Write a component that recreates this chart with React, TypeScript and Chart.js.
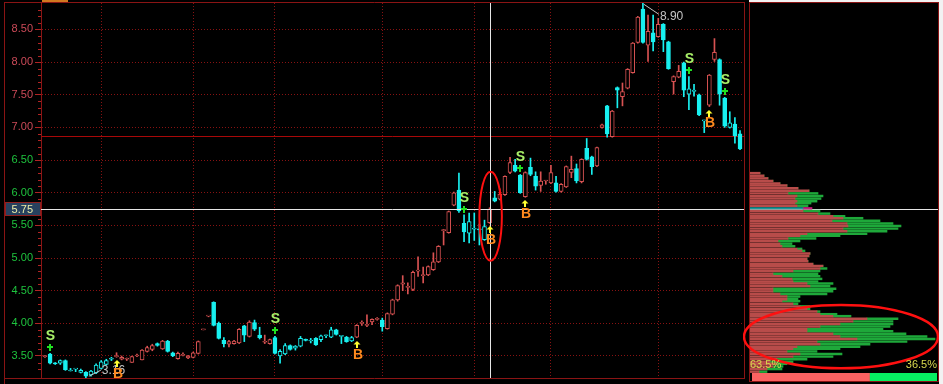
import React, { useEffect, useRef } from 'react';
import { Chart, registerables } from 'chart.js';

Chart.register(...registerables);

// ---------- candle data (daily OHLC) ----------
const opens = [3.49,3.53,3.39,3.39,3.43,3.27,3.30,3.25,3.25,3.21,
3.24,3.31,3.37,3.45,3.49,3.45,3.45,3.40,3.50,3.44,
3.57,3.60,3.69,3.61,3.73,3.55,3.46,3.51,3.47,3.48,
3.54,3.90,4.11,4.32,4.00,3.74,3.68,3.69,3.70,3.96,
3.80,4.01,3.82,3.71,3.69,3.78,3.50,3.53,3.66,3.62,
3.65,3.75,3.73,3.77,3.75,3.81,3.79,3.90,3.80,3.79,
3.73,3.79,4.00,3.97,4.02,4.06,4.05,3.92,4.14,4.36,
4.60,4.55,4.52,4.80,4.73,4.74,4.82,4.94,5.42,5.39,
5.81,6.04,5.53,5.38,5.44,5.44,5.28,5.54,5.92,5.90,
5.97,6.31,6.42,6.27,5.94,6.39,6.25,6.11,6.18,6.15,
6.15,6.02,6.09,6.31,6.37,6.17,6.68,6.55,6.41,7.00,
7.33,6.86,7.61,7.47,7.60,7.84,8.30,8.81,8.26,8.45,
8.39,8.58,8.31,7.70,7.77,7.99,7.51,7.55,7.50,7.10,
7.34,8.04,8.04,7.45,7.00,7.05,6.90];
const highs = [3.51,3.54,3.40,3.44,3.44,3.31,3.30,3.30,3.26,3.28,
3.38,3.43,3.45,3.48,3.55,3.50,3.47,3.50,3.53,3.60,
3.65,3.68,3.70,3.74,3.74,3.56,3.56,3.55,3.51,3.56,
3.73,3.91,4.11,4.33,4.02,3.78,3.74,3.74,3.92,3.97,
4.04,4.05,3.94,3.82,3.76,3.80,3.60,3.69,3.67,3.66,
3.80,3.76,3.77,3.78,3.82,3.82,3.94,3.91,3.81,3.80,
3.80,3.98,4.04,4.13,4.07,4.09,4.08,4.16,4.37,4.59,
4.73,4.62,4.80,5.02,4.86,4.88,5.08,5.19,5.44,5.72,
6.01,6.30,5.66,5.69,5.69,5.52,5.58,5.77,6.02,6.06,
6.26,6.54,6.51,6.28,6.32,6.53,6.32,6.32,6.19,6.42,
6.25,6.14,6.41,6.56,6.44,6.52,6.83,6.56,6.70,7.05,
7.34,7.26,7.62,7.68,7.90,8.30,8.70,8.90,8.72,8.72,
8.67,8.59,8.32,7.79,7.95,8.00,7.78,7.66,7.51,7.11,
7.81,8.36,8.05,7.46,7.24,7.15,6.95];
const lows = [3.48,3.38,3.37,3.37,3.28,3.27,3.26,3.24,3.16,3.19,
3.23,3.30,3.36,3.43,3.48,3.44,3.43,3.40,3.49,3.44,
3.56,3.58,3.65,3.60,3.56,3.49,3.45,3.50,3.46,3.47,
3.53,3.90,4.10,3.96,3.76,3.64,3.64,3.68,3.69,3.72,
3.79,3.89,3.76,3.69,3.68,3.53,3.39,3.52,3.59,3.59,
3.64,3.73,3.70,3.66,3.72,3.78,3.78,3.82,3.69,3.71,
3.72,3.78,3.97,3.95,3.98,4.05,3.88,3.91,4.13,4.34,
4.50,4.45,4.50,4.72,4.62,4.73,4.81,4.93,5.20,5.38,
5.80,5.70,5.25,5.23,5.27,5.20,5.27,5.53,5.86,5.89,
5.96,6.29,6.32,5.99,5.93,6.26,6.04,6.02,6.13,6.14,
6.01,6.01,6.08,6.23,6.15,6.15,6.50,6.28,6.40,6.99,
6.85,6.85,7.30,7.33,7.59,7.83,8.29,8.29,8.01,8.17,
8.38,8.16,7.89,7.51,7.76,7.47,7.27,7.48,7.18,6.92,
7.32,8.01,7.34,7.00,6.99,6.76,6.66];
const closes = [3.50,3.39,3.38,3.43,3.29,3.27,3.30,3.28,3.19,3.27,
3.36,3.41,3.43,3.46,3.50,3.48,3.46,3.49,3.51,3.59,
3.63,3.66,3.66,3.73,3.57,3.50,3.54,3.52,3.50,3.55,
3.72,3.91,4.11,3.97,3.77,3.69,3.72,3.73,3.91,3.82,
4.02,3.91,3.78,3.72,3.75,3.54,3.57,3.66,3.60,3.65,
3.77,3.74,3.74,3.67,3.81,3.82,3.90,3.83,3.80,3.72,
3.78,3.97,4.01,3.98,4.06,4.07,3.95,4.15,4.36,4.58,
4.62,4.56,4.78,4.81,4.74,4.87,4.94,5.18,5.43,5.71,
6.00,5.72,5.40,5.56,5.45,5.43,5.48,5.75,5.87,5.98,
6.25,6.46,6.33,6.00,6.31,6.28,6.10,6.18,6.19,6.31,
6.02,6.13,6.40,6.36,6.18,6.51,6.51,6.40,6.69,7.04,
6.90,7.25,7.57,7.55,7.89,8.29,8.69,8.30,8.47,8.31,
8.58,8.34,7.90,7.78,7.86,7.57,7.59,7.57,7.19,7.10,
7.80,8.15,7.51,7.02,7.07,6.87,6.67];

// trading signals (candle indices)
const sellSignals = [1, 45, 82, 93, 126, 133];
const buySignals = [14, 61, 87, 94, 130];

// vertical (period) grid lines, at candle indices
const periodGridCandles = [11, 29, 45, 66, 84, 99, 120];

// crosshair / reference
const crossCandle = 87;
const crossPrice = 5.75;
const refPrice = 6.87;
const priceMin = 3.163;
const priceMax = 8.905;

// ---------- volume-by-price profile ----------
const profilePrices = [6.30,6.26,6.22,6.18,6.14,6.11,6.07,6.03,5.99,5.95,
5.91,5.87,5.84,5.80,5.76,5.72,5.68,5.64,5.61,5.57,
5.53,5.49,5.45,5.41,5.37,5.34,5.30,5.26,5.22,5.18,
5.14,5.11,5.07,5.03,4.99,4.95,4.91,4.88,4.84,4.80,
4.76,4.72,4.68,4.64,4.61,4.57,4.53,4.49,4.45,4.41,
4.37,4.34,4.30,4.26,4.22,4.18,4.14,4.11,4.07,4.03,
3.99,3.95,3.91,3.88,3.84,3.80,3.76,3.72,3.68,3.64,
3.61,3.57,3.53,3.49,3.45,3.41,3.38,3.34,3.30,3.26];
const profileRed = [11,15,19,24,31,38,49,60,39,48,
46,48,46,48,54,54,69,84,94,83,
98,99,94,98,58,51,39,29,31,33,
48,53,61,60,58,59,64,74,71,44,
24,33,43,44,58,61,24,24,31,38,
38,33,44,51,58,68,71,84,118,104,
91,71,58,58,84,91,108,68,71,48,
44,38,51,44,28,21,28,24,18,10];
const profileGreen = [0,0,0,0,0,0,0,0,30,26,
26,20,16,11,9,17,12,12,20,48,
46,53,55,40,60,40,28,22,12,13,
5,3,0,0,0,0,0,0,7,27,
45,38,30,25,26,20,63,60,47,13,
11,18,5,10,3,3,17,18,31,40,
53,70,76,86,73,87,78,90,50,63,
47,30,42,40,30,23,10,10,15,8];
const profileMax = 189;
const shareRed = 63.5;
const shareGreen = 36.5;

// ---------- styles ----------
const RED = '#d85252';
const CYAN = '#18f0f0';
const FRAME = '#8a1414';
const GRID = 'rgba(150,20,20,0.9)';
const TICK = '#b02424';
const FONT = '"Liberation Sans", Arial, sans-serif';

const N = opens.length;
const idx = opens.map((_, i) => i);

function candleColors() {
  let state = 'red';
  const fill: string[] = [];
  const border: string[] = [];
  const wick: string[] = [];
  for (let i = 0; i < N; i++) {
    if (sellSignals.includes(i)) state = 'cyan';
    if (buySignals.includes(i)) state = 'red';
    const up = closes[i] >= opens[i];
    if (up) {
      const c = state === 'red' ? RED : CYAN;
      fill.push('#000000'); border.push(c); wick.push(c);
    } else {
      fill.push(CYAN); border.push(CYAN); wick.push(CYAN);
    }
  }
  return { fill, border, wick };
}

const isMajor = (v: number) => Math.abs(v * 2 - Math.round(v * 2)) < 1e-6;
const isMinor = (v: number) => Math.abs(v * 10 - Math.round(v * 10)) < 1e-6;

const mainDeco = {
  id: 'mainDeco',
  beforeDatasetsDraw(chart: any) {
    const { ctx, chartArea: a, scales } = chart;
    const y = scales.y;
    ctx.save();
    const yr = Math.round(y.getPixelForValue(refPrice)) + 0.5;
    ctx.strokeStyle = '#a80808';
    ctx.lineWidth = 1;
    ctx.beginPath(); ctx.moveTo(a.left, yr); ctx.lineTo(a.right, yr); ctx.stroke();
    // short minor tick marks on the price axis
    ctx.strokeStyle = TICK;
    ctx.beginPath();
    for (const t of y.ticks) {
      if (isMinor(t.value) && !isMajor(t.value)) {
        const ty = Math.round(y.getPixelForValue(t.value)) + 0.5;
        ctx.moveTo(a.left - 3, ty); ctx.lineTo(a.left, ty);
      }
    }
    ctx.stroke();
    ctx.restore();
  },
  afterDatasetsDraw(chart: any) {
    const { ctx, chartArea: a, scales } = chart;
    const x = scales.x, y = scales.y;
    ctx.save();
    // frame
    ctx.strokeStyle = FRAME; ctx.lineWidth = 1;
    ctx.beginPath();
    ctx.moveTo(4.5, 2.5); ctx.lineTo(4.5, 384);
    ctx.moveTo(4, 2.5); ctx.lineTo(a.right + 1, 2.5);
    ctx.moveTo(a.right + 0.5, 2.5); ctx.lineTo(a.right + 0.5, a.bottom + 1);
    ctx.moveTo(4, a.bottom + 0.5); ctx.lineTo(a.right + 1, a.bottom + 0.5);
    ctx.stroke();
    ctx.fillStyle = '#d07820';
    ctx.fillRect(42, 0, 26, 2);

    // crosshair
    const cx = Math.round(x.getPixelForValue(crossCandle)) + 0.5;
    const cy = Math.round(y.getPixelForValue(crossPrice)) + 0.5;
    ctx.strokeStyle = '#e6e6e6'; ctx.lineWidth = 1;
    ctx.beginPath();
    ctx.moveTo(cx, a.top); ctx.lineTo(cx, a.bottom);
    ctx.moveTo(a.left, cy); ctx.lineTo(a.right, cy);
    ctx.stroke();

    // high / low labels
    let hi = 0, lo = 0;
    for (let i = 0; i < N; i++) { if (highs[i] > highs[hi]) hi = i; if (lows[i] < lows[lo]) lo = i; }
    ctx.font = '12px ' + FONT;
    ctx.fillStyle = '#c4c4c4'; ctx.strokeStyle = '#c4c4c4';
    ctx.textAlign = 'left'; ctx.textBaseline = 'middle';
    const hx = x.getPixelForValue(hi), hy = y.getPixelForValue(highs[hi]);
    ctx.beginPath(); ctx.moveTo(hx + 1, hy + 1); ctx.lineTo(hx + 16, hy + 11); ctx.stroke();
    ctx.fillText(highs[hi].toFixed(2), hx + 17, hy + 13);
    const lx = x.getPixelForValue(lo), ly = y.getPixelForValue(lows[lo]);
    ctx.beginPath(); ctx.moveTo(lx + 3, ly - 2); ctx.lineTo(lx + 15, ly - 8); ctx.stroke();
    ctx.fillText(lows[lo].toFixed(2), lx + 16, ly - 8);

    // signals
    ctx.font = 'bold 14px ' + FONT;
    ctx.textAlign = 'center'; ctx.textBaseline = 'middle';
    for (const i of sellSignals) {
      const px = Math.round(x.getPixelForValue(i));
      const py = y.getPixelForValue(highs[i]);
      const ay = Math.round(py - 6);
      ctx.fillStyle = '#22e022';
      ctx.fillRect(px - 1, ay - 3, 2, 7);
      ctx.fillRect(px - 3, ay - 1, 6, 2);
      ctx.fillStyle = '#a8f068';
      ctx.fillText('S', px + 0.5, py - 17);
    }
    for (const i of buySignals) {
      const px = Math.round(x.getPixelForValue(i));
      const py = y.getPixelForValue(lows[i]);
      const ay = Math.round(py + 6);
      ctx.fillStyle = '#ffff30';
      ctx.beginPath(); ctx.moveTo(px, ay - 3); ctx.lineTo(px + 3.5, ay + 0.5); ctx.lineTo(px - 3.5, ay + 0.5); ctx.closePath(); ctx.fill();
      ctx.fillRect(px - 1, ay, 2, 4);
      ctx.fillStyle = '#ff8a1e';
      ctx.fillText('B', px + 1, py + 17);
    }

    // annotation ellipse
    const ex = x.getPixelForValue(crossCandle + 0.2);
    const ey = y.getPixelForValue(5.64);
    const erx = x.getPixelForValue(crossCandle + 2.4) - ex;
    const ery = y.getPixelForValue(5.64) - y.getPixelForValue(6.32);
    ctx.strokeStyle = '#ff1010'; ctx.lineWidth = 2;
    ctx.beginPath(); ctx.ellipse(ex, ey, erx, ery, 0, 0, Math.PI * 2); ctx.stroke();

    // crosshair price box on axis
    ctx.fillStyle = '#27415f';
    ctx.fillRect(6, cy - 7, 35, 13);
    ctx.strokeStyle = '#902020'; ctx.lineWidth = 1;
    ctx.strokeRect(5.5, cy - 7, 35, 13);
    ctx.fillStyle = '#eeeea8';
    ctx.font = '11px ' + FONT;
    ctx.textAlign = 'right'; ctx.textBaseline = 'middle';
    ctx.fillText(crossPrice.toFixed(2), 33, cy);
    ctx.restore();
  },
};

const profDeco = {
  id: 'profDeco',
  beforeDatasetsDraw(chart: any) {
    const { ctx, chartArea: a, scales } = chart;
    const cy = Math.round(scales.y.getPixelForValue(crossPrice)) + 0.5;
    ctx.save();
    ctx.strokeStyle = '#e6e6e6'; ctx.lineWidth = 1;
    ctx.beginPath(); ctx.moveTo(a.left, cy); ctx.lineTo(a.right, cy); ctx.stroke();
    ctx.restore();
  },
  afterDatasetsDraw(chart: any) {
    const { ctx, chartArea: a, scales } = chart;
    const x = scales.x, y = scales.y;
    ctx.save();
    ctx.strokeStyle = FRAME; ctx.lineWidth = 1;
    ctx.strokeRect(a.left + 0.5, 2.5, a.right - a.left, 379);
    // annotation ellipse
    const ex = x.getPixelForValue(92);
    const ey = y.getPixelForValue(3.796);
    const erx = x.getPixelForValue(189) - x.getPixelForValue(92);
    const ery = y.getPixelForValue(3.796) - y.getPixelForValue(4.281);
    ctx.strokeStyle = '#ff1010'; ctx.lineWidth = 2.5;
    ctx.beginPath(); ctx.ellipse(ex, ey, erx, ery, 0, 0, Math.PI * 2); ctx.stroke();
    // share texts
    ctx.font = '11px ' + FONT;
    ctx.fillStyle = '#d8d84e';
    ctx.textBaseline = 'middle';
    ctx.textAlign = 'left';
    ctx.fillText(shareRed.toFixed(1) + '%', a.left + 1, 365);
    ctx.textAlign = 'right';
    ctx.fillText(shareGreen.toFixed(1) + '%', a.right - 1, 365);
    ctx.restore();
  },
};

export default function App() {
  const mainRef = useRef<HTMLCanvasElement>(null);
  const profRef = useRef<HTMLCanvasElement>(null);
  const shareRef = useRef<HTMLCanvasElement>(null);

  useEffect(() => {
    document.body.style.margin = '0';
    Chart.defaults.font.family = FONT;
    const charts: Chart[] = [];
    const col = candleColors();

    charts.push(new Chart(mainRef.current as HTMLCanvasElement, {
      type: 'bar',
      data: {
        datasets: [
          {
            label: 'wick',
            data: idx.map(i => ({ x: i, y: [lows[i], highs[i]] })) as any,
            backgroundColor: col.wick,
            borderWidth: 0,
            barThickness: 1,
            grouped: false,
            order: 2,
          } as any,
          {
            label: 'body',
            data: idx.map(i => ({ x: i, y: [opens[i], closes[i]] })) as any,
            backgroundColor: col.fill,
            borderColor: col.border,
            borderWidth: 1,
            borderSkipped: false,
            barThickness: 4,
            minBarLength: 1,
            grouped: false,
            order: 1,
          } as any,
        ],
      },
      options: {
        animation: false,
        responsive: false,
        devicePixelRatio: 1,
        events: [],
        layout: { padding: { left: 0, top: 3, right: 1, bottom: 6 } },
        plugins: { legend: { display: false }, tooltip: { enabled: false } },
        scales: {
          x: {
            type: 'linear',
            min: -0.78,
            max: N - 1 + 0.78,
            bounds: 'data',
            offset: false,
            grid: { offset: false, color: GRID, drawTicks: false, lineWidth: 1 },
            border: { display: false, dash: [1, 2] },
            ticks: { display: false },
            afterBuildTicks: (s: any) => { s.ticks = periodGridCandles.map(v => ({ value: v })); },
            afterFit: (s: any) => { s.height = 0; s.paddingLeft = 0; s.paddingRight = 0; },
          } as any,
          y: {
            type: 'linear',
            min: priceMin,
            max: priceMax,
            position: 'left',
            grid: {
              color: (c: any) => (c.tick && isMajor(c.tick.value) ? GRID : 'rgba(0,0,0,0)'),
              tickColor: (c: any) => (c.tick && isMajor(c.tick.value) ? TICK : 'rgba(0,0,0,0)'),
              tickLength: 6,
              lineWidth: 1,
            },
            border: { display: true, color: FRAME, dash: [1, 2] },
            ticks: {
              stepSize: 0.1,
              autoSkip: false,
              includeBounds: true,
              padding: 2,
              font: { size: 11, family: FONT },
              color: (c: any) => (c.tick && c.tick.value > refPrice ? '#cc4a58' : '#1ec43e'),
              callback: (v: any) => (isMajor(Number(v)) ? Number(v).toFixed(2) : ''),
            },
            afterFit: (s: any) => { s.width = 41; s.paddingTop = 0; s.paddingBottom = 0; },
          } as any,
        },
      },
      plugins: [mainDeco],
    }));

    const nearCross = (k: number) => Math.abs(profilePrices[k] - crossPrice) < 0.02;
    charts.push(new Chart(profRef.current as HTMLCanvasElement, {
      type: 'bar',
      data: {
        datasets: [
          {
            data: profilePrices.map((p, k) => ({ x: profileRed[k], y: p })) as any,
            backgroundColor: profilePrices.map((_, k) => (nearCross(k) ? '#1a9a9a' : '#b84c4a')),
            borderWidth: 0,
            barThickness: 1.8,
            stack: 'v',
          } as any,
          {
            data: profilePrices.map((p, k) => ({ x: profileGreen[k], y: p })) as any,
            backgroundColor: profilePrices.map((_, k) => (nearCross(k) ? '#c81c7c' : '#1ea83a')),
            borderWidth: 0,
            barThickness: 1.8,
            stack: 'v',
          } as any,
        ],
      },
      options: {
        indexAxis: 'y',
        animation: false,
        responsive: false,
        devicePixelRatio: 1,
        events: [],
        layout: { padding: { left: 6, right: 5, top: 3, bottom: 6 } },
        plugins: { legend: { display: false }, tooltip: { enabled: false } },
        scales: {
          x: { type: 'linear', min: 0, max: profileMax, stacked: true, display: false, bounds: 'data', offset: false } as any,
          y: { type: 'linear', min: priceMin, max: priceMax, stacked: true, display: false, bounds: 'data', offset: false } as any,
        },
      },
      plugins: [profDeco],
    }));

    charts.push(new Chart(shareRef.current as HTMLCanvasElement, {
      type: 'bar',
      data: {
        labels: [''],
        datasets: [
          { data: [shareRed], backgroundColor: '#fa6262', borderWidth: 0, barPercentage: 1, categoryPercentage: 1 },
          { data: [shareGreen], backgroundColor: '#06ee62', borderWidth: 0, barPercentage: 1, categoryPercentage: 1 },
        ],
      },
      options: {
        indexAxis: 'y',
        animation: false,
        responsive: false,
        devicePixelRatio: 1,
        events: [],
        layout: { padding: 0 },
        plugins: { legend: { display: false }, tooltip: { enabled: false } },
        scales: {
          x: { stacked: true, min: 0, max: shareRed + shareGreen, display: false },
          y: { stacked: true, display: false },
        },
      },
    }));

    return () => charts.forEach(c => c.destroy());
  }, []);

  return (
    <div style={{ position: 'relative', width: 943, height: 384, background: '#000', overflow: 'hidden' }}>
      <canvas ref={mainRef} width={745} height={384} style={{ position: 'absolute', left: 0, top: 0 }} />
      <canvas ref={profRef} width={200} height={384} style={{ position: 'absolute', left: 743, top: 0 }} />
      <canvas ref={shareRef} width={185} height={8} style={{ position: 'absolute', left: 752, top: 373 }} />
      <div style={{ position: 'absolute', left: 749, top: 0, width: 194, height: 2, background: '#f2f2f2' }} />
      <div style={{ position: 'absolute', left: 939, top: 0, width: 4, height: 384, background: '#f2f2f2' }} />
    </div>
  );
}
